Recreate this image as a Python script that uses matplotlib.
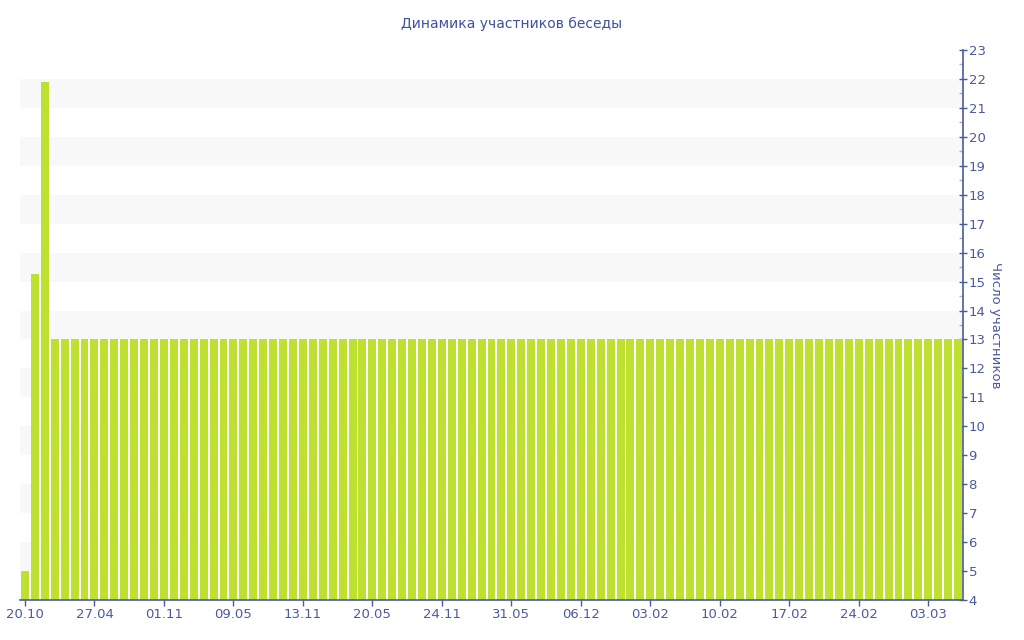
import matplotlib.pyplot as plt
from matplotlib.ticker import MultipleLocator

# participant counts per period (95 bars)
counts = [5, 15.25, 21.9] + [13] * 92
tick_labels = ["20.10", "27.04", "01.11", "09.05", "13.11", "20.05", "24.11",
               "31.05", "06.12", "03.02", "10.02", "17.02", "24.02", "03.03"]
tick_step = 7

blue = "#4a5aa0"
bar_color = "#bde031"

fig = plt.figure(figsize=(10.24, 6.4), dpi=100)
ax = fig.add_axes([20 / 1024, 40 / 640, 943 / 1024, 550 / 640])

x = list(range(len(counts)))
ax.set_xlim(-0.5, len(counts) - 0.5)
ax.set_ylim(4, 23)

# alternating horizontal bands
for lo in range(5, 22, 2):
    ax.axhspan(lo, lo + 1, color="#f8f8f8", zorder=0, lw=0)

ax.bar(x, counts, width=0.8, color=bar_color, zorder=2)

ax.yaxis.tick_right()
ax.yaxis.set_label_position("right")
ax.yaxis.set_major_locator(MultipleLocator(1))
ax.yaxis.set_minor_locator(MultipleLocator(0.5))
ax.tick_params(axis="y", which="major", direction="inout", length=6, width=1,
               color=blue, labelcolor=blue, labelsize=9.5, pad=1)
ax.tick_params(axis="y", which="minor", direction="in", length=3, width=1,
               color="#b0b0b0")

ax.set_xticks([i * tick_step for i in range(len(tick_labels))])
ax.set_xticklabels(tick_labels)
ax.tick_params(axis="x", direction="out", length=4, width=1, color=blue,
               labelcolor=blue, labelsize=9.5, pad=2)

for side in ["top", "left"]:
    ax.spines[side].set_visible(False)
for side in ["bottom", "right"]:
    ax.spines[side].set_color(blue)
    ax.spines[side].set_linewidth(1.2)

ax.set_ylabel("Число участников", color=blue, fontsize=9.5, rotation=-90,
              labelpad=12)
fig.suptitle("Динамика участников беседы", color="#3f51a0", fontsize=10,
             y=0.974)

fig.savefig("out.png", dpi=100)
